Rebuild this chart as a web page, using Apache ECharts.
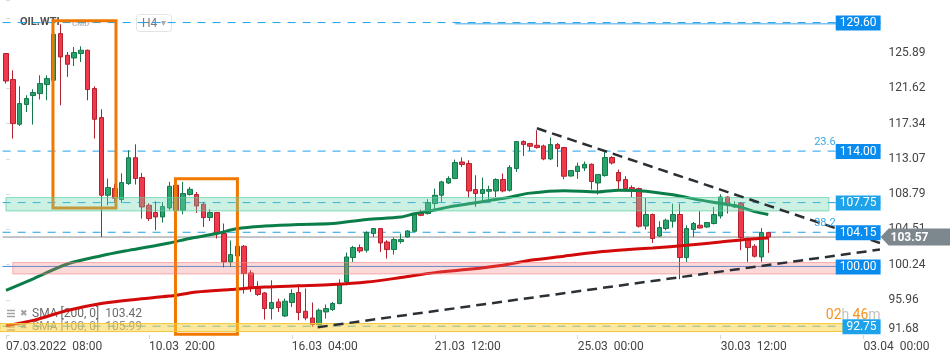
<!DOCTYPE html>
<html><head><meta charset="utf-8">
<script src="https://cdn.jsdelivr.net/npm/echarts@6/dist/echarts.min.js"></script>
<style>html,body{margin:0;padding:0;background:#fff}#c{width:950px;height:360px}</style>
</head><body><div id="c"></div>
<script>
// ---- data ----
// each candle: [open, close, low, high]
const candles = [
[125.84,122.51,122.20,125.90],[122.68,117.34,115.52,123.81],[117.26,119.77,117.05,121.87],[119.65,120.38,118.75,120.78],
[120.74,121.10,117.22,121.51],[120.98,122.20,120.26,123.20],[122.08,122.80,120.17,123.20],[122.60,128.18,122.40,128.70],
[128.26,125.43,119.56,129.40],[125.63,124.54,123.00,126.03],[125.30,125.96,124.33,126.64],[125.84,126.24,124.82,126.72],
[126.24,121.47,120.17,126.32],[121.59,117.86,115.52,121.87],[118.07,108.64,103.58,119.08],[108.64,109.57,107.43,110.67],
[109.45,108.28,107.80,110.00],[108.12,110.18,107.70,111.31],[110.06,113.19,109.90,114.10],[113.20,110.67,109.94,114.83],
[110.79,107.22,105.81,111.35],[107.43,105.81,105.52,107.67],[106.54,106.01,104.39,107.91],[106.01,107.27,105.33,107.83],
[107.10,109.73,106.82,110.26],[109.85,106.82,106.50,110.50],[106.82,108.85,106.33,110.26],[108.73,109.37,108.60,109.65],
[108.73,107.34,106.49,109.04],[107.55,105.93,104.79,107.83],[105.93,106.54,105.52,106.94],[106.54,103.99,103.39,106.60],
[103.99,100.55,99.87,105.21],[100.55,101.44,99.94,103.14],[101.27,102.45,100.90,102.80],[102.45,99.14,96.71,102.60],
[99.21,97.32,96.90,99.54],[97.32,96.59,96.42,98.20],[96.78,94.89,93.56,96.90],[94.89,95.62,93.56,98.32],
[95.69,95.01,94.48,96.10],[93.99,95.78,93.87,96.10],[95.62,96.71,95.08,97.23],[96.83,94.41,93.47,97.80],
[94.56,93.75,93.47,97.32],[93.75,92.95,92.66,95.62],[92.95,94.68,92.86,94.89],[94.48,94.89,93.68,95.38],
[94.77,95.50,94.60,95.69],[95.50,97.80,95.40,98.45],[98.12,101.15,97.72,101.69],[101.08,102.29,100.55,102.50],
[102.29,101.88,101.64,102.66],[101.97,104.11,101.69,104.27],[103.99,104.60,103.58,104.65],[104.60,102.85,101.76,104.65],
[102.97,102.05,100.96,103.18],[102.05,103.26,101.44,103.51],[103.02,103.26,102.78,103.99],[103.58,104.31,103.51,104.39],
[104.27,106.42,104.20,106.49],[106.49,106.21,106.10,106.91],[106.42,107.75,106.30,108.16],[107.63,108.64,106.82,109.45],
[108.64,110.26,107.83,110.38],[110.13,110.67,110.00,110.95],[110.67,112.61,110.60,112.97],[112.68,112.37,112.08,113.22],
[112.49,109.16,108.36,112.89],[109.33,108.85,107.22,111.07],[108.85,109.33,108.03,110.79],[109.13,109.33,108.16,109.80],
[109.16,110.55,108.43,110.70],[110.55,109.16,109.00,111.27],[109.25,112.00,109.10,112.30],[111.88,115.16,111.47,115.23],
[115.16,114.79,113.41,115.31],[114.91,114.59,114.02,115.00],[114.71,114.43,114.30,116.53],[114.62,113.05,112.89,114.79],
[113.05,114.79,112.90,115.64],[114.79,114.31,112.08,114.99],[114.43,110.95,110.58,114.50],[110.98,111.64,110.90,111.67],
[111.52,112.16,110.62,112.61],[111.95,112.40,111.59,112.73],[112.40,110.31,109.33,112.50],[110.13,111.15,108.73,111.20],
[111.03,113.22,110.90,113.90],[113.22,112.56,112.37,113.38],[111.40,110.38,109.25,111.76],[110.55,109.45,109.25,110.95],
[109.57,109.25,108.43,109.85],[109.45,104.88,104.72,109.57],[104.91,106.30,104.48,108.31],[106.30,103.39,102.85,106.42],
[103.70,104.72,103.58,105.49],[104.60,105.61,104.39,105.81],[105.49,106.30,104.72,107.63],[106.30,101.08,98.45,107.63],
[101.08,104.60,100.55,105.00],[104.48,105.21,103.58,105.40],[105.00,104.67,104.60,106.70],[104.79,105.33,104.70,105.40],
[105.21,106.30,105.10,107.22],[106.13,108.43,105.81,108.76],[108.43,107.55,106.42,108.50],[107.22,107.51,107.10,107.91],
[107.63,103.51,101.97,107.83],[103.26,102.29,100.55,103.51],[102.45,101.24,101.08,102.70],[101.15,104.11,100.55,104.67],
[104.11,103.57,101.64,104.15]
];
const slotCount = 129;                 // bars + empty future slots on the time axis
const categories = Array.from({length: slotCount}, (_, i) => i);
const xTickEvery = 21;
const xTickLabels = ['07.03.2022  08:00','10.03  20:00','16.03  04:00','21.03  12:00','25.03  00:00','30.03  12:00','03.04  00:00'];
const yTickLabels = ['91.68','95.96','100.24','104.51','108.79','113.07','117.34','121.62','125.89'];
const yMin = 91.68, yMax = 132.34, yStep = 4.2775;

// moving averages sampled at bar indexes [index, value]
const sma100 = [[0,97.1],[4,98.5],[9,100.3],[14,101.3],[18,101.95],[24,102.85],[27,103.4],[31,104.0],[34,104.6],[38,104.9],
 [43,105.1],[48,105.2],[53,105.7],[58,106.0],[60,106.4],[63,106.85],[65,107.2],[68,107.6],[71,108.0],[74,108.4],[77,108.9],
 [82,109.2],[87,109.05],[90,109.25],[93,109.2],[98,108.7],[102,108.05],[105,107.65],[108,107.2],[110,106.65],[112,106.3]];
const sma200 = [[0,92.8],[4,93.45],[9,94.65],[14,95.5],[19,96.0],[24,96.4],[28,96.9],[33,97.2],[38,97.5],[43,97.65],[48,97.8],
 [53,98.1],[58,98.65],[63,99.25],[68,99.65],[73,100.15],[77,100.75],[82,101.25],[87,101.75],[90,101.97],[95,102.25],
 [100,102.57],[105,102.97],[109,103.3],[112,103.45]];

const dashedLevels = [129.60, 114.00, 107.75, 104.15, 92.75];
const solidLevels = [100.00];
const tagLevels = [129.60, 114.00, 107.75, 104.15, 100.00, 92.75];
const lastPrice = 103.57;
const highRay = [66, 129.45];
const fibLabels = [[114.00, '23.6'], [104.15, '38.2']];
// boxes: [x0, x1, low, high] in bar-index units
const orangeBoxes = [[6.9, 16.16, 107.10, 129.82], [24.9, 34.0, 91.77, 110.64]];
const tealZone = [[0, 120.9, 106.74, 108.36]];
const pinkZone = [[1.0, 122.05, 99.09, 100.47]];
const yellowZone = [[-0.9, 123.0, 92.10, 93.07]];
const trendLines = [[[78.0, 116.77], [128.4, 102.85]], [[45.8, 92.62], [128.4, 102.05]]];
const legendRows = [['SMA [200, 0]', '103.42'], ['SMA [100, 0]', '105.99']];
const countdown = ['02', '46'];

// ---- chart ----
const FONT = 'Roboto';
const chart = echarts.init(document.getElementById('c'));

function boxSeries(data, style, z) {
  return {
    type: 'custom', xAxisIndex: 1, yAxisIndex: 0, z: z, silent: true, data: data,
    encode: {x: [0, 1], y: [2, 3]},
    renderItem: function (params, api) {
      const a = api.coord([api.value(0), api.value(3)]);
      const b = api.coord([api.value(1), api.value(2)]);
      return {type: 'rect', shape: {x: a[0], y: a[1], width: b[0] - a[0], height: b[1] - a[1]}, style: style};
    }
  };
}
function hLine(v, x0, style, z) {
  return {type: 'line', xAxisIndex: 1, yAxisIndex: 0, z: z, silent: true, symbol: 'none',
    data: [[x0, v], [slotCount - 0.5, v]], lineStyle: style};
}

const series = [];
series.push(hLine(highRay[1], highRay[0], {color: '#7cc2f3', width: 1.5}, 1));
dashedLevels.forEach(v => series.push(hLine(v, -0.5, {color: '#1ea0ec', width: 1, type: [8, 7]}, 1)));
solidLevels.forEach(v => series.push(hLine(v, -0.5, {color: '#3a8fe2', width: 1}, 1)));
series.push(hLine(lastPrice, -0.5, {color: '#8c8c8c', width: 1}, 1));
series.push({
  type: 'candlestick', xAxisIndex: 0, yAxisIndex: 0, z: 2, data: candles, barWidth: 5,
  itemStyle: {color: '#26a46c', color0: '#f03a4b', borderColor: '#15774a', borderColor0: '#b3202f', borderWidth: 1}
});
series.push({type: 'line', xAxisIndex: 1, yAxisIndex: 0, z: 3, data: sma100, smooth: 0.3, symbol: 'none',
  lineStyle: {color: '#0b7d48', width: 3}});
series.push({type: 'line', xAxisIndex: 1, yAxisIndex: 0, z: 3, data: sma200, smooth: 0.3, symbol: 'none',
  lineStyle: {color: '#d20a0a', width: 3}});
series.push(boxSeries(orangeBoxes, {fill: 'none', stroke: '#f07800', lineWidth: 3}, 4));
series.push(boxSeries(tealZone, {fill: 'rgba(110,215,175,0.35)', stroke: 'rgba(90,205,160,0.7)', lineWidth: 1}, 5));
series.push(boxSeries(pinkZone, {fill: 'rgba(245,120,120,0.28)', stroke: 'rgba(240,130,130,0.6)', lineWidth: 1}, 5));
series.push(boxSeries(yellowZone, {fill: 'rgba(253,210,60,0.5)', stroke: '#f4c93f', lineWidth: 1}, 5));
trendLines.forEach(t => series.push({type: 'line', xAxisIndex: 1, yAxisIndex: 0, z: 6, silent: true, symbol: 'none',
  data: t, lineStyle: {color: '#2b3035', width: 2.5, type: [10, 6]}}));

chart.setOption({
  animation: false,
  backgroundColor: '#fff',
  grid: {left: 2.6, right: 69.4, top: 0, bottom: 25, containLabel: false},
  xAxis: [{
    type: 'category', data: categories, boundaryGap: true,
    axisLine: {show: false}, splitLine: {show: false},
    axisTick: {show: true, alignWithLabel: true, interval: i => i % xTickEvery === 0, length: 4, lineStyle: {color: '#d6d6d6'}},
    axisLabel: {interval: i => i % xTickEvery === 0, formatter: (v, i) => xTickLabels[i / xTickEvery] || '',
      align: 'left', color: '#444', fontSize: 12, fontFamily: FONT, margin: 6}
  }, {type: 'value', min: -0.5, max: slotCount - 0.5, show: false}],
  yAxis: [{
    type: 'value', position: 'right', min: yMin, max: yMax, interval: yStep, scale: true,
    axisLine: {show: false}, splitLine: {show: false},
    axisTick: {show: true, length: 4, lineStyle: {color: '#dcdcdc'}},
    axisLabel: {color: '#444', fontSize: 12, fontFamily: FONT, margin: 8, verticalAlignMinLabel: 'bottom',
      formatter: v => yTickLabels.find(s => Math.abs(parseFloat(s) - v) < 0.02) || ''}
  }],
  series: series
});

// ---- overlays positioned from the axes ----
const py = v => chart.convertToPixel({yAxisIndex: 0}, v);
const gridRight = chart.convertToPixel({xAxisIndex: 1}, slotCount - 0.5);
const g = [];
const tagColor = v => (v === 107.75 || v === 92.75) ? '#1ea3ea' : '#0a8cef';
tagLevels.forEach(v => {
  g.push({type: 'text', z: 100, x: gridRight, y: py(v) + 0.5,
    style: {text: v.toFixed(2), align: 'right', verticalAlign: 'middle', fill: '#fff', font: '12px ' + FONT,
      backgroundColor: tagColor(v), padding: [2, 4, 1, 4]}});
});
fibLabels.forEach(([v, t]) => {
  g.push({type: 'text', z: 100, x: gridRight - 45, y: py(v) - 9,
    style: {text: t, align: 'right', verticalAlign: 'middle', fill: '#3aa9e8', font: '11px ' + FONT}});
});
const ly = py(lastPrice);
g.push({type: 'polygon', z: 100, shape: {points: [[gridRight, ly], [gridRight + 8, ly - 8.5], [950, ly - 8.5], [950, ly + 8.5], [gridRight + 8, ly + 8.5]]},
  style: {fill: '#7d878e'}});
g.push({type: 'text', z: 101, x: gridRight + 10, y: ly + 0.5,
  style: {text: lastPrice.toFixed(2), align: 'left', verticalAlign: 'middle', fill: '#fff', font: 'bold 12px ' + FONT}});
g.push({type: 'text', z: 100, x: gridRight, y: py(92.75) - 11,
  style: {text: '{o|' + countdown[0] + '}{g|h} {o|' + countdown[1] + '}{g|m}', align: 'right', verticalAlign: 'middle',
    rich: {o: {fill: '#f7931e', font: '14px ' + FONT}, g: {fill: '#c3c3c3', font: '14px ' + FONT}}}});
// header
g.push({type: 'text', z: 1, x: 20, y: 22.5, style: {text: 'OIL.WTI', verticalAlign: 'middle', fill: '#505050', font: 'bold 11px ' + FONT}});
g.push({type: 'text', z: 1, x: 72, y: 23.5, style: {text: 'CMD', verticalAlign: 'middle', fill: '#b5bdc5', font: 'bold 8px ' + FONT}});
g.push({type: 'rect', z: 1, shape: {x: 136.5, y: 14.5, width: 35, height: 17, r: 3}, style: {fill: '#fff', stroke: '#e3e3e3', lineWidth: 1}});
g.push({type: 'text', z: 1, x: 142, y: 23.5, style: {text: 'H4', verticalAlign: 'middle', fill: '#7a7a7a', font: '12px ' + FONT}});
g.push({type: 'text', z: 1, x: 161, y: 23.5, style: {text: '▾', verticalAlign: 'middle', fill: '#aaa', font: '10px DejaVu Sans'}});
// legend
legendRows.forEach(([name, val], k) => {
  const y = 313.5 + k * 13.5;
  const col = k === 0 ? '#6a6a6a' : '#8a8a8a';
  [ -3, 0, 3 ].forEach(d => g.push({type: 'rect', z: 1, shape: {x: 7, y: y + d - 0.7, width: 8, height: 1.4}, style: {fill: '#a0a0a0'}}));
  g.push({type: 'text', z: 1, x: 20, y: y, style: {text: '✖', verticalAlign: 'middle', fill: '#a0a0a0', font: '9px DejaVu Sans'}});
  g.push({type: 'text', z: 1, x: 32, y: y, style: {text: name + '  ' + val, verticalAlign: 'middle', fill: col, font: '12px ' + FONT}});
});
chart.setOption({graphic: g});
</script></body></html>
